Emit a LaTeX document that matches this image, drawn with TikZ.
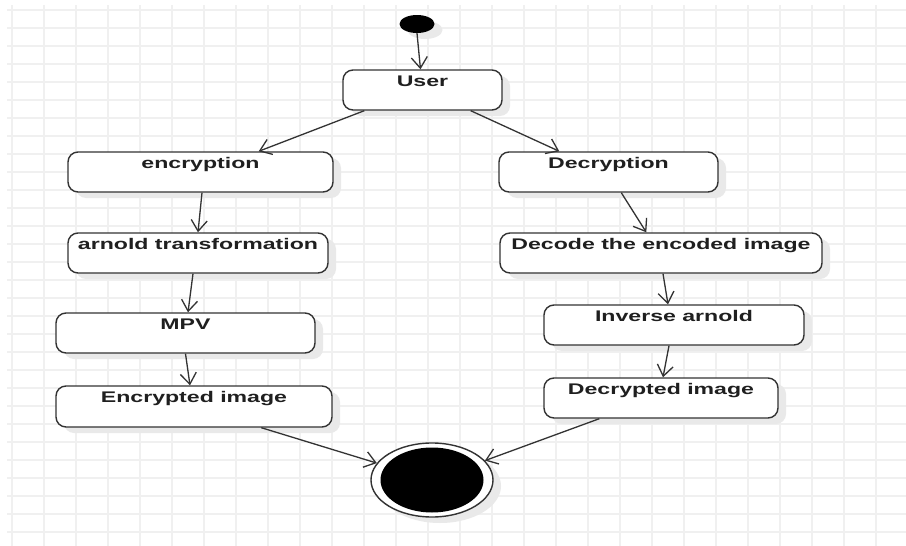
\documentclass[tikz,border=0pt]{standalone}
\usepackage{fontspec}
\newfontfamily\lblfont[FakeStretch=1.5]{Liberation Sans}
\usetikzlibrary{arrows.meta,shapes.geometric,shadows}
\definecolor{gridc}{HTML}{F0F0F0}
\definecolor{linec}{HTML}{333333}
\definecolor{shadowc}{HTML}{E9E9E9}
\tikzset{
  softshadow/.style={drop shadow={shadow xshift=8pt, shadow yshift=-6pt, fill=shadowc, opacity=1}},
  actbox/.style={draw=linec, line width=1.4pt, rounded corners=10pt, fill=white,
    minimum height=40pt, inner sep=0pt, softshadow},
  lbl/.style={font=\lblfont\fontsize{15.4pt}{18pt}\selectfont\bfseries, text=black!88,
    anchor=base, yshift=-17pt, inner sep=0pt},
  flow/.style={draw=linec, line width=1.3pt,
    -{Straight Barb[length=11pt,width=16pt,line width=1.3pt]}},
  gridline/.style={draw=gridc, line width=1.4pt},
}
\begin{document}
\begin{tikzpicture}[x=1pt,y=-1pt]
\useasboundingbox (0,0) rectangle (906,546);
\fill[white] (0,0) rectangle (906,546);
% grid
\foreach \x in {12,44,...,876} \draw[gridline] (\x,5) -- (\x,546);
\foreach \y in {10,28,...,532} \draw[gridline] (7,\y) -- (906,\y);

% start
\node[ellipse, fill=black, minimum width=35pt, minimum height=18pt, inner sep=0pt, softshadow] (start) at (417,24) {};

% boxes
\node[actbox, minimum width=159pt, label={[lbl]north:User}] (user) at (422.5,90) {};
\node[actbox, minimum width=265pt, label={[lbl]north:encryption}] (enc) at (200.5,172) {};
\node[actbox, minimum width=260pt, label={[lbl]north:arnold transformation}] (arn) at (198,253) {};
\node[actbox, minimum width=259pt, label={[lbl]north:MPV}] (mpv) at (185.5,333) {};
\node[actbox, minimum width=276pt, minimum height=41pt, label={[lbl]north:Encrypted image}] (encimg) at (194,406.5) {};
\node[actbox, minimum width=219pt, label={[lbl]north:Decryption}] (dec) at (608.5,172) {};
\node[actbox, minimum width=322pt, label={[lbl]north:Decode the encoded image}] (decode) at (661,253) {};
\node[actbox, minimum width=260pt, label={[lbl]north:Inverse arnold}] (inv) at (674,325) {};
\node[actbox, minimum width=234pt, label={[lbl]north:Decrypted image}] (decimg) at (661,398) {};

% end
\node[ellipse, draw=linec, line width=1.4pt, fill=white, minimum width=122pt, minimum height=74pt, inner sep=0pt, softshadow] (end) at (432,480) {};
\fill[black] (end.center) ellipse [x radius=51.5pt, y radius=32.5pt];

% connectors
\draw[flow] (start.south) -- ([xshift=-2pt]user.north);
\draw[flow] ([xshift=22pt]user.south west) -- ([xshift=-75pt]enc.north east);
\draw[flow] ([xshift=-32pt]user.south east) -- ([xshift=61pt]dec.north west);
\draw[flow] ([xshift=1.5pt]enc.south) -- (arn.north);
\draw[flow] ([xshift=-5pt]arn.south) -- ([xshift=2.5pt]mpv.north);
\draw[flow] (mpv.south) -- ([xshift=-4pt]encimg.north);
\draw[flow] ([xshift=123pt]dec.south west) -- ([xshift=147pt]decode.north west);
\draw[flow] ([xshift=2pt]decode.south) -- ([xshift=-6pt]inv.north);
\draw[flow] ([xshift=-5pt]inv.south) -- ([xshift=2pt]decimg.north);
\draw[flow] ([xshift=206pt]encimg.south west) -- (end);
\draw[flow] ([xshift=56pt]decimg.south west) -- (end);
\end{tikzpicture}
\end{document}
